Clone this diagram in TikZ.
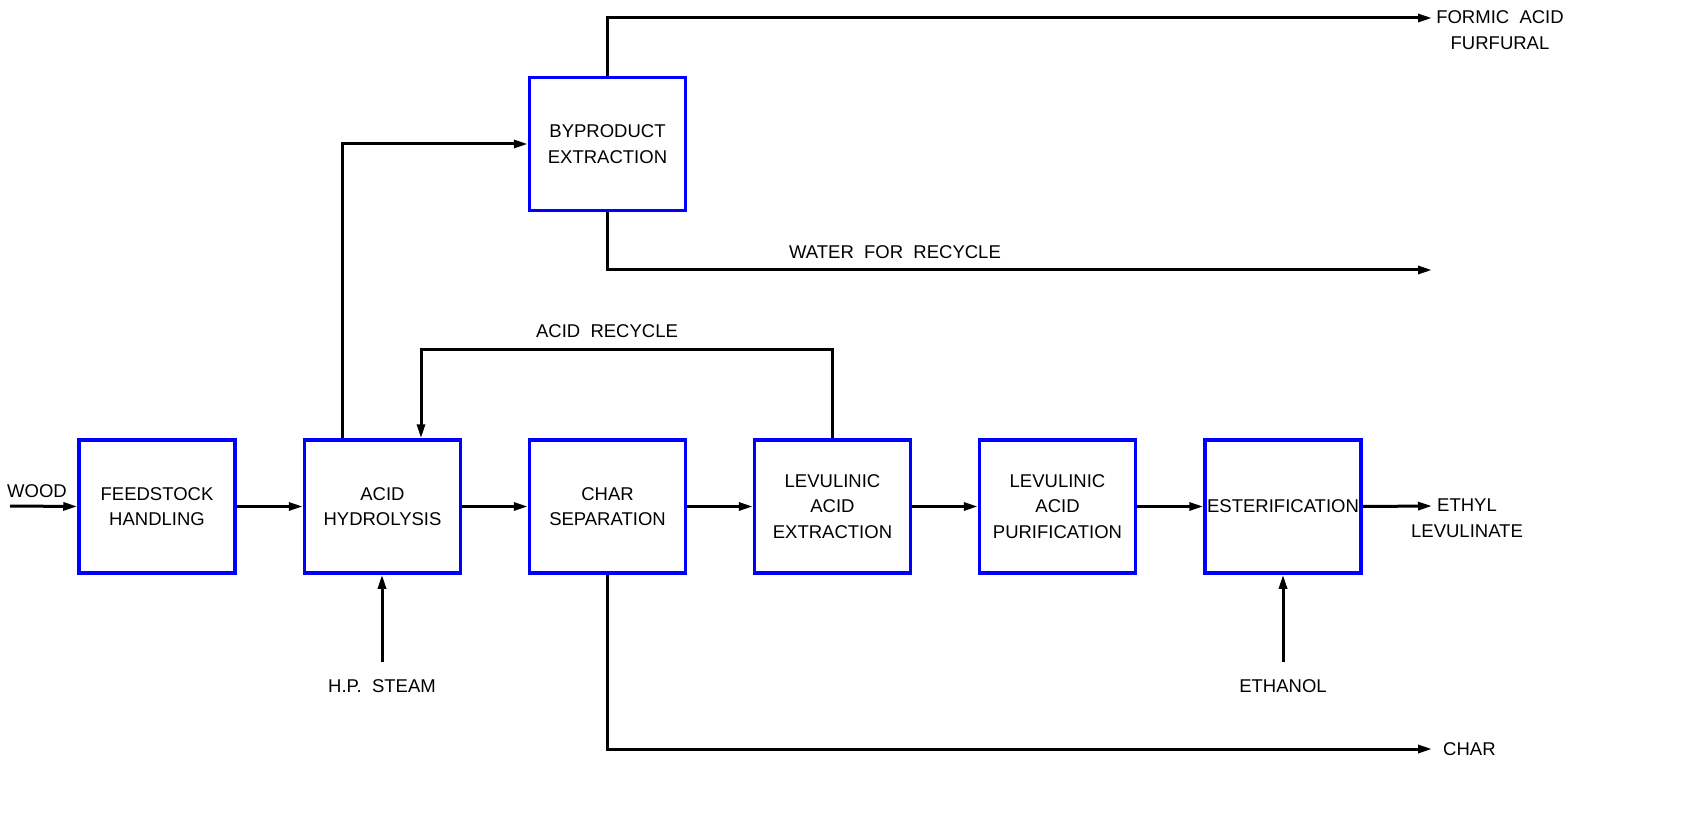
\documentclass[tikz,border=0pt]{standalone}
\usepackage{fontspec}
\setmainfont{Liberation Sans}
\usetikzlibrary{arrows.meta}
\begin{document}
\begin{tikzpicture}[x=1pt,y=-1pt,
  font=\fontsize{18.5}{25.5}\selectfont,
  proc/.style={draw=blue, line width=3.5pt, minimum width=156pt, minimum height=133pt, align=center, inner sep=0pt},
  flow/.style={draw=black, line width=3pt, line join=miter, -{Triangle[length=14pt,width=8pt]}},
  lbl/.style={inner sep=0pt, align=center}]
\useasboundingbox (0,0) rectangle (1690,818);
\fill[white] (0,0) rectangle (1690,818);
% process boxes
\node[proc] (feed) at (157,506.5) {FEEDSTOCK\\HANDLING};
\node[proc] (hyd)  at (382.5,506.5) {ACID\\HYDROLYSIS};
\node[proc] (char) at (607.5,506.5) {CHAR\\SEPARATION};
\node[proc] (lae)  at (832.5,506.5) {LEVULINIC\\ACID\\EXTRACTION};
\node[proc] (lap)  at (1057.5,506.5) {LEVULINIC\\ACID\\PURIFICATION};
\node[proc] (est)  at (1283,506.5) {ESTERIFICATION};
\node[proc] (byp)  at (607.5,144) {BYPRODUCT\\EXTRACTION};
% free ends
\coordinate (woodin) at (10,506);
\coordinate (formic) at (1432,18);
\coordinate (water) at (1432,270);
\coordinate (charout) at (1432,749);
\coordinate (elout) at (1432,506);
\coordinate (steam) at (382,662);
\coordinate (ethin) at (1283,662);
\coordinate (recyc) at (832.5,350);
% labels
\node[lbl] (lwood) at (37,491) {WOOD};
\node[lbl] (lformic) at (1500,30) {FORMIC\ \ ACID\\FURFURAL};
\node[lbl] (lwater) at (895,252) {WATER\ \ FOR\ \ RECYCLE};
\node[lbl] (lacid) at (607,331) {ACID\ \ RECYCLE};
\node[lbl] (lsteam) at (382,686) {H.P.\ \ STEAM};
\node[lbl] (leth) at (1283,686) {ETHANOL};
\node[lbl, anchor=west] (lchar) at (1443,749) {CHAR};
\node[lbl] (lel) at (1467,518) {ETHYL\\LEVULINATE};
% main line
\draw[flow] (woodin) -- (feed.west);
\draw[flow] (feed.east) -- (hyd.west);
\draw[flow] (hyd.east) -- (char.west);
\draw[flow] (char.east) -- (lae.west);
\draw[flow] (lae.east) -- (lap.west);
\draw[flow] (lap.east) -- (est.west);
\draw[flow] (est.east) -- (elout);
% byproduct
\draw[flow] (hyd.north -| 342,0) |- (byp.west);
\draw[flow] (byp.north) |- (formic);
\draw[flow] (byp.south) |- (water);
% acid recycle
\draw[flow] (lae.north) -- (recyc) -| (hyd.north -| 421,0);
% char
\draw[flow] (char.south) |- (charout);
% steam, ethanol
\draw[flow] (steam) -- (hyd.south -| steam);
\draw[flow] (ethin) -- (est.south);
\end{tikzpicture}
\end{document}
